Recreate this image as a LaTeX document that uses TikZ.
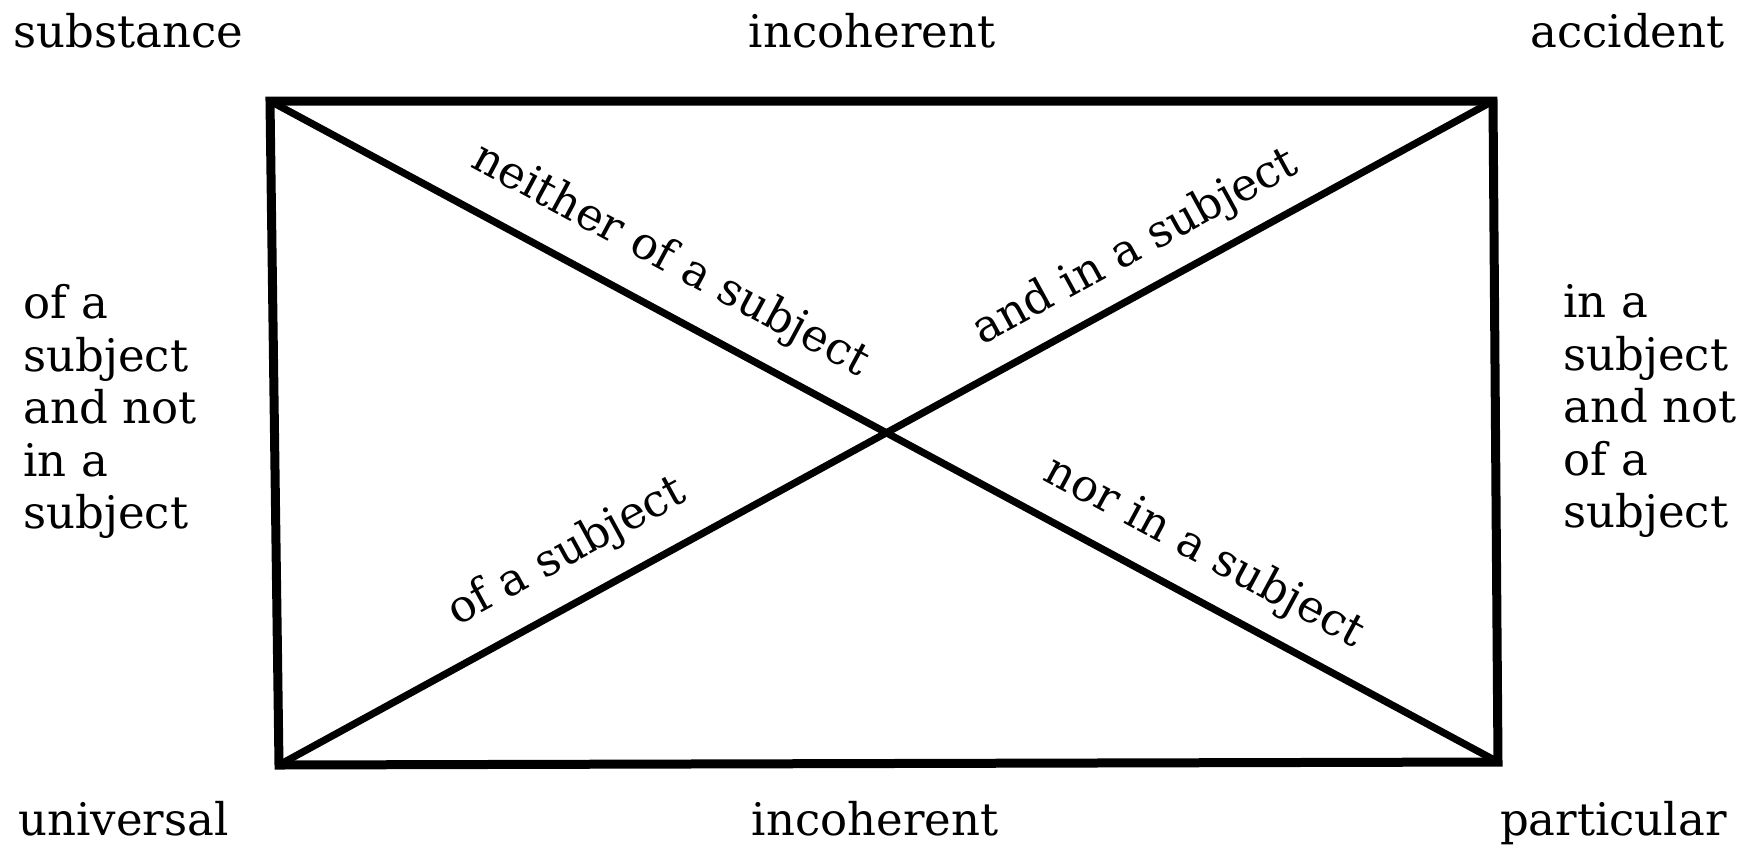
\documentclass[tikz,border=0pt]{standalone}
\usepackage{fontspec}
\setmainfont{DejaVu Serif}
\begin{document}
\begin{tikzpicture}[x=0.5pt,y=-0.5pt,
  lbl/.style={inner sep=0pt, font=\fontsize{22.5pt}{26.25pt}\selectfont},
  blk/.style={lbl, align=left, anchor=north west},
  frame/.style={line width=4.5pt, line join=miter},
  diag/.style={line width=3.6pt}]
\useasboundingbox (0,0) rectangle (1742,848);
\coordinate (TL) at (270,101);
\coordinate (TR) at (1493,101);
\coordinate (BR) at (1498,762);
\coordinate (BL) at (279,765);
\draw[frame] (TL) -- (TR) -- (BR) -- (BL) -- cycle;
\draw[diag] (TL) -- (BR);
\draw[diag] (BL) -- (TR);
% corner / side labels
\node[lbl, anchor=base west] (subst) at (13,47) {substance};
\node[lbl, anchor=base] (inctop) at (872,47) {incoherent};
\node[lbl, anchor=base east] (accid) at (1725,47) {accident};
\node[lbl, anchor=base west] (univ) at (18,835) {universal};
\node[lbl, anchor=base] (incbot) at (875,835) {incoherent};
\node[lbl, anchor=base east] (partic) at (1727,835) {particular};
\node[blk] (left) at (23,284) {of a\\subject\\and not\\in a\\subject};
\node[blk] (right) at (1563,284) {in a\\subject\\and not\\of a\\subject};
% diagonal labels
\node[lbl, rotate=-28.3] (neither) at (670,261) {neither of a subject};
\node[lbl, rotate=-28.3] (nor) at (1204,553) {nor in a subject};
\node[lbl, rotate=28.7] (andin) at (1136,248) {and in a subject};
\node[lbl, rotate=28.7] (ofa) at (567,553) {of a subject};
\end{tikzpicture}
\end{document}
